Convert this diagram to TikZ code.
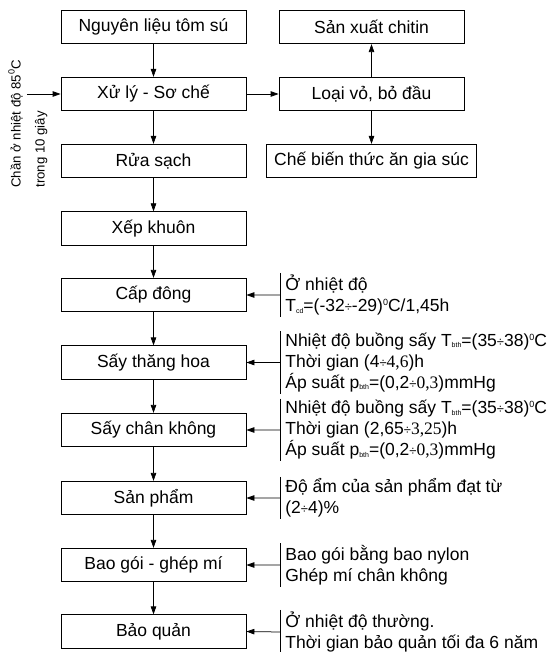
\documentclass[tikz,border=0pt]{standalone}
\usepackage{fontspec}
\setmainfont{Liberation Sans}
\newfontfamily\serifpart{Liberation Serif}
\usetikzlibrary{arrows.meta,positioning,calc}
\newcommand{\lowsub}[1]{\raisebox{-1.5pt}{\fontsize{7}{7}\selectfont #1}}
\newcommand{\hisup}[1]{\raisebox{6pt}{\fontsize{9}{9}\selectfont #1}}
\newcommand{\dv}{{\fontsize{13}{13}\selectfont ÷}}
\newcommand{\sr}[1]{{\serifpart #1}}
\newcommand{\sidenote}[4]{%
  \node[note] (#1) at (285,#3) {#4};
  \draw ([xshift=-5pt]#1.north west) coordinate (#1t) -- ([xshift=-5pt]#1.south west) coordinate (#1b);
  \coordinate (#1m) at ($(#1t)!0.5!(#1b)$);
  \draw[arr] (#1m) -- (#2.east);
}
\begin{document}
\begin{tikzpicture}[x=1pt,y=-1pt,
  font=\fontsize{17.5}{21}\selectfont,
  line width=0.75pt,
  stepbox/.style={draw, minimum width=185pt, minimum height=33.5pt, inner sep=0pt},
  note/.style={anchor=west, align=left, inner xsep=0pt, inner ysep=1.5pt},
  arr/.style={-{Triangle[length=8pt,width=5.5pt]}}]
\useasboundingbox (0,0) rectangle (555,652);
% main column
\node[stepbox] (n1) at (153.5,27) {Nguyên liệu tôm sú};
\node[stepbox] (n2) at (153.5,94) {Xử lý - Sơ chế};
\node[stepbox] (n3) at (153.5,161) {Rửa sạch};
\node[stepbox] (n4) at (153.5,228.5) {Xếp khuôn};
\node[stepbox] (n5) at (153.5,295) {Cấp đông};
\node[stepbox] (n6) at (153.5,362.5) {Sấy thăng hoa};
\node[stepbox] (n7) at (153.5,430) {Sấy chân không};
\node[stepbox] (n8) at (153.5,498) {Sản phẩm};
\node[stepbox] (n9) at (153.5,565) {Bao gói - ghép mí};
\node[stepbox] (n10) at (153.5,631.5) {Bảo quản};
% right column
\node[stepbox] (r1) at (371.5,27) {Sản xuất chitin};
\node[stepbox] (r2) at (371.5,94) {Loại vỏ, bỏ đầu};
\node[stepbox, minimum width=210pt] (r3) at (371.5,161) {Chế biến thức ăn gia súc};
% arrows main
\foreach \a/\b in {n1/n2,n2/n3,n3/n4,n4/n5,n5/n6,n6/n7,n7/n8,n8/n9,n9/n10}
  \draw[arr] (\a) -- (\b);
\draw[arr] (n2) -- (r2);
\draw[arr] (r2) -- (r1);
\draw[arr] (r2) -- (r3);
% left note
\node[rotate=90, anchor=north west, align=left, inner sep=0pt,
  font=\fontsize{13.2}{24}\selectfont] (lt) at (8,188)
  {Chần ở nhiệt độ 85\hisup{0}C\\trong 10 giây};
\coordinate (lin) at (27,94);
\draw[arr] (lin) -- (n2);
% right notes
\sidenote{a5}{n5}{295}{Ở nhiệt độ\\T\lowsub{cd}=(-32\dv-29)\hisup{0}C/1,45h}
\sidenote{a6}{n6}{362.5}{Nhiệt độ buồng sấy T\lowsub{bth}=(35\dv38)\hisup{0}C\\Thời gian (4\dv\sr{4,6})h\\Áp suất p\lowsub{bth}=(0,2\dv\sr{0,3})mmHg}
\sidenote{a7}{n7}{430}{Nhiệt độ buồng sấy T\lowsub{bth}=(35\dv38)\hisup{0}C\\Thời gian (2,65\dv\sr{3,25})h\\Áp suất p\lowsub{bth}=(0,2\dv\sr{0,3})mmHg}
\sidenote{a8}{n8}{498}{Độ ẩm của sản phẩm đạt từ\\(2\dv4)\%}
\sidenote{a9}{n9}{565}{Bao gói bằng bao nylon\\Ghép mí chân không}
\sidenote{a10}{n10}{632}{Ở nhiệt độ thường.\\Thời gian bảo quản tối đa 6 năm}
\end{tikzpicture}
\end{document}
